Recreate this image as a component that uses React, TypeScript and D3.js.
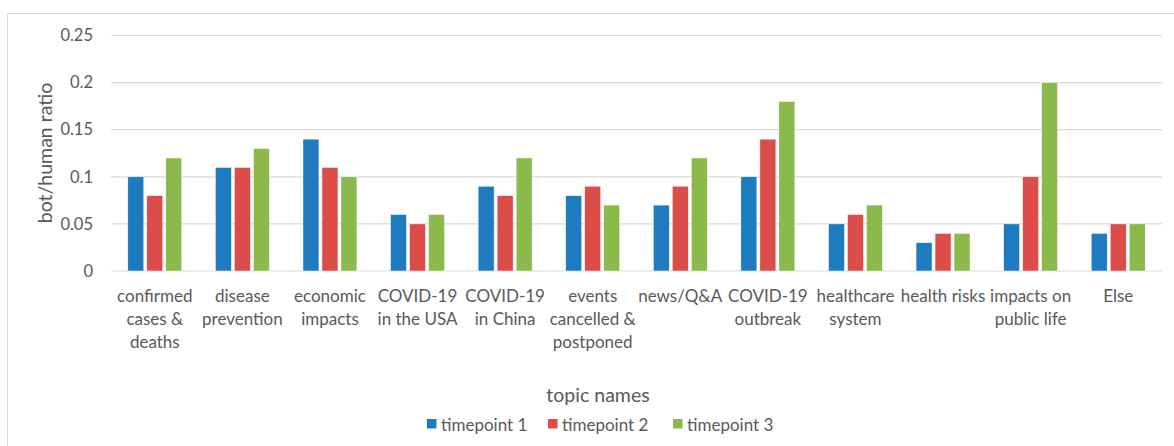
import React from "react";
import * as d3 from "d3";

const categories: string[][] = [
  ["confirmed", "cases &", "deaths"],
  ["disease", "prevention"],
  ["economic", "impacts"],
  ["COVID-19", "in the USA"],
  ["COVID-19", "in China"],
  ["events", "cancelled &", "postponed"],
  ["news/Q&A"],
  ["COVID-19", "outbreak"],
  ["healthcare", "system"],
  ["health risks"],
  ["impacts on", "public life"],
  ["Else"],
];
const timepoint1 = [0.1, 0.11, 0.14, 0.06, 0.09, 0.08, 0.07, 0.1, 0.05, 0.03, 0.05, 0.04];
const timepoint2 = [0.08, 0.11, 0.11, 0.05, 0.08, 0.09, 0.09, 0.14, 0.06, 0.04, 0.1, 0.05];
const timepoint3 = [0.12, 0.13, 0.1, 0.06, 0.12, 0.07, 0.12, 0.18, 0.07, 0.04, 0.2, 0.05];
const seriesNames = ["timepoint 1", "timepoint 2", "timepoint 3"];
const yTicks = [0, 0.05, 0.1, 0.15, 0.2, 0.25];
const yTickLabels = ["0", "0.05", "0.1", "0.15", "0.2", "0.25"];

const colors = ["#1F7BBF", "#DC4C49", "#8BB94B"];
const FONT = "Lato, 'Open Sans', sans-serif";
const TEXT = "#595959";

export default function App() {
  const W = 1174, H = 446;
  const left = 111, right = 1162, top = 35.5, bottom = 271;
  const series = [timepoint1, timepoint2, timepoint3];
  const x = d3.scaleBand<number>().domain(d3.range(categories.length)).range([left, right]);
  const y = d3.scaleLinear().domain([0, 0.25]).range([bottom, top]);
  const barW = 16, step = 19;
  const legendX = [427, 548, 673];

  return (
    <svg width={W} height={H} style={{ position: "absolute", left: 0, top: 0, background: "#fff" }} fontFamily={FONT}>
      <rect x={7.5} y={13.5} width={1300} height={600} fill="#fff" stroke="#D9D9D9" strokeWidth={1} />
      {yTicks.map((t, i) => (
        <g key={i}>
          <line x1={left} x2={right} y1={y(t)} y2={y(t)} stroke="#D9D9D9" strokeWidth={1.2} />
          <text x={93} y={y(t)} dy="0.35em" textAnchor="end" fontSize={16.5} fill={TEXT}>{yTickLabels[i]}</text>
        </g>
      ))}
      <text transform={`translate(45,153) rotate(-90)`} textAnchor="middle" dy="0.35em" fontSize={19.5} fill={TEXT}>bot/human ratio</text>
      {categories.map((c, i) => {
        const cx = (x(i) as number) + x.bandwidth() / 2;
        return (
          <g key={i}>
            {series.map((s, j) => (
              <rect key={j} x={cx + (j - 1) * step - barW / 2} y={y(s[i])} width={barW}
                height={bottom - y(s[i])} fill={colors[j]} stroke="#fff" strokeWidth={0.5} />
            ))}
            {c.map((line, k) => (
              <text key={k} x={cx} y={296 + k * 23} dy="0.35em" textAnchor="middle" fontSize={17} fill={TEXT}>{line}</text>
            ))}
          </g>
        );
      })}
      <text x={598} y={395} dy="0.35em" textAnchor="middle" fontSize={19.5} fill={TEXT}>topic names</text>
      {seriesNames.map((n, j) => (
        <g key={j}>
          <rect x={legendX[j]} y={419} width={9.5} height={9.5} fill={colors[j]} />
          <text x={legendX[j] + 14} y={425} dy="0.35em" fontSize={17} fill={TEXT}>{n}</text>
        </g>
      ))}
    </svg>
  );
}
